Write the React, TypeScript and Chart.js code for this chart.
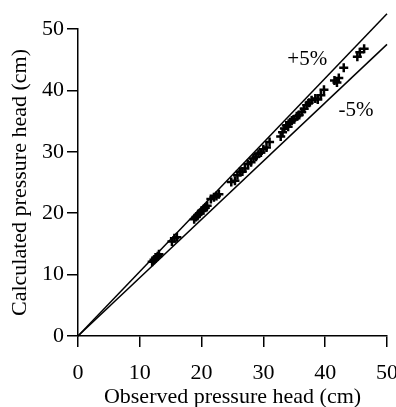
import React, { useEffect, useRef } from "react";
import { Chart, registerables } from "chart.js";
Chart.register(...registerables);

const observed = [12.0, 12.3, 12.6, 12.9, 13.1, 15.2, 15.6, 16.0, 18.8, 19.1, 19.4, 19.7, 20.0, 20.3, 20.6, 20.9, 21.5, 22.0, 22.4, 22.8, 24.8, 25.4, 25.8, 26.2, 26.6, 27.0, 27.5, 28.0, 28.4, 28.8, 29.2, 29.6, 30.0, 30.5, 31.0, 32.8, 33.1, 33.4, 33.7, 34.0, 34.3, 34.6, 35.0, 35.4, 35.8, 36.2, 36.6, 37.0, 37.4, 37.8, 38.4, 38.8, 39.3, 39.8, 41.5, 41.9, 42.2, 43.0, 45.2, 45.6, 46.3];
const calculated = [12.1, 12.4, 12.8, 13.0, 13.3, 15.4, 15.9, 16.1, 19.0, 19.4, 19.7, 20.0, 20.4, 20.5, 20.9, 21.2, 22.3, 22.6, 22.8, 23.1, 25.1, 25.3, 26.2, 26.7, 26.8, 27.3, 28.0, 28.3, 28.9, 29.2, 29.7, 29.9, 30.4, 30.7, 31.6, 32.5, 33.2, 33.8, 34.3, 34.1, 34.8, 35.1, 35.3, 35.8, 36.0, 36.5, 37.0, 37.6, 38.0, 38.4, 38.7, 38.5, 39.2, 40.1, 41.6, 41.3, 42.0, 43.7, 45.5, 46.2, 46.8];
const upperLine = [{ x: 0, y: 0 }, { x: 50, y: 52.5 }];
const lowerLine = [{ x: 0, y: 0 }, { x: 50, y: 47.5 }];
const lineLabels = [
  { text: "+5%", x: 37.1, y: 45.0 },
  { text: "-5%", x: 45.0, y: 36.8 },
];
const tickValues = [0, 10, 20, 30, 40, 50];

const FONT = "'Liberation Serif', 'Times New Roman', serif";

export default function App() {
  const ref = useRef<HTMLCanvasElement>(null);
  useEffect(() => {
    const labelPlugin = {
      id: "lineLabels",
      afterDatasetsDraw(chart: any) {
        const { ctx, scales } = chart;
        ctx.save();
        ctx.fillStyle = "#000";
        ctx.font = `21px ${FONT}`;
        ctx.textAlign = "center";
        ctx.textBaseline = "middle";
        lineLabels.forEach((l) => {
          ctx.fillText(l.text, scales.x.getPixelForValue(l.x), scales.y.getPixelForValue(l.y));
        });
        ctx.restore();
      },
    };
    const chart = new Chart(ref.current!, {
      type: "scatter",
      data: {
        datasets: [
          {
            type: "line",
            data: upperLine,
            borderColor: "#000",
            borderWidth: 1.5,
            pointRadius: 0,
            clip: false,
          } as any,
          {
            type: "line",
            data: lowerLine,
            borderColor: "#000",
            borderWidth: 1.5,
            pointRadius: 0,
            clip: false,
          } as any,
          {
            data: observed.map((v, i) => ({ x: v, y: calculated[i] })),
            pointStyle: "cross",
            pointRadius: 4.5,
            borderWidth: 2.5,
            borderColor: "#000",
            backgroundColor: "#000",
          },
        ],
      },
      options: {
        animation: false,
        responsive: true,
        maintainAspectRatio: false,
        layout: { padding: { top: 29, right: 9, left: 0, bottom: 0 } },
        plugins: { legend: { display: false }, tooltip: { enabled: false } },
        scales: {
          x: {
            type: "linear",
            min: 0,
            max: 50,
            afterBuildTicks: (s: any) => { s.ticks = tickValues.map((v) => ({ value: v })); },
            afterFit: (s: any) => { s.height = 71; s.paddingRight = 0; s.paddingLeft = 0; },
            border: { color: "#000", width: 1.5 },
            grid: { drawOnChartArea: false, drawTicks: true, tickLength: 11, color: "#000", lineWidth: 1.5 },
            ticks: { color: "#000", font: { family: FONT, size: 22 }, padding: 13, maxRotation: 0 },
            title: { display: true, text: "Observed pressure head (cm)", color: "#000", font: { family: FONT, size: 22 }, padding: { top: 0, bottom: -3 } },
          },
          y: {
            type: "linear",
            min: 0,
            max: 50,
            afterBuildTicks: (s: any) => { s.ticks = tickValues.map((v) => ({ value: v })); },
            afterFit: (s: any) => { s.width = 78; s.paddingTop = 0; s.paddingBottom = 0; },
            border: { color: "#000", width: 1.5 },
            grid: { drawOnChartArea: false, drawTicks: true, tickLength: 11, color: "#000", lineWidth: 1.5 },
            ticks: { color: "#000", font: { family: FONT, size: 22 }, padding: 3 },
            title: { display: true, text: "Calculated pressure head (cm)", color: "#000", font: { family: FONT, size: 22 }, padding: { top: 7, bottom: 0 } },
          },
        },
      },
      plugins: [labelPlugin],
    });
    return () => chart.destroy();
  }, []);
  return (
    <div style={{ position: "fixed", left: 0, top: 0, width: 396, height: 407, background: "#fff" }}>
      <canvas ref={ref} />
    </div>
  );
}
